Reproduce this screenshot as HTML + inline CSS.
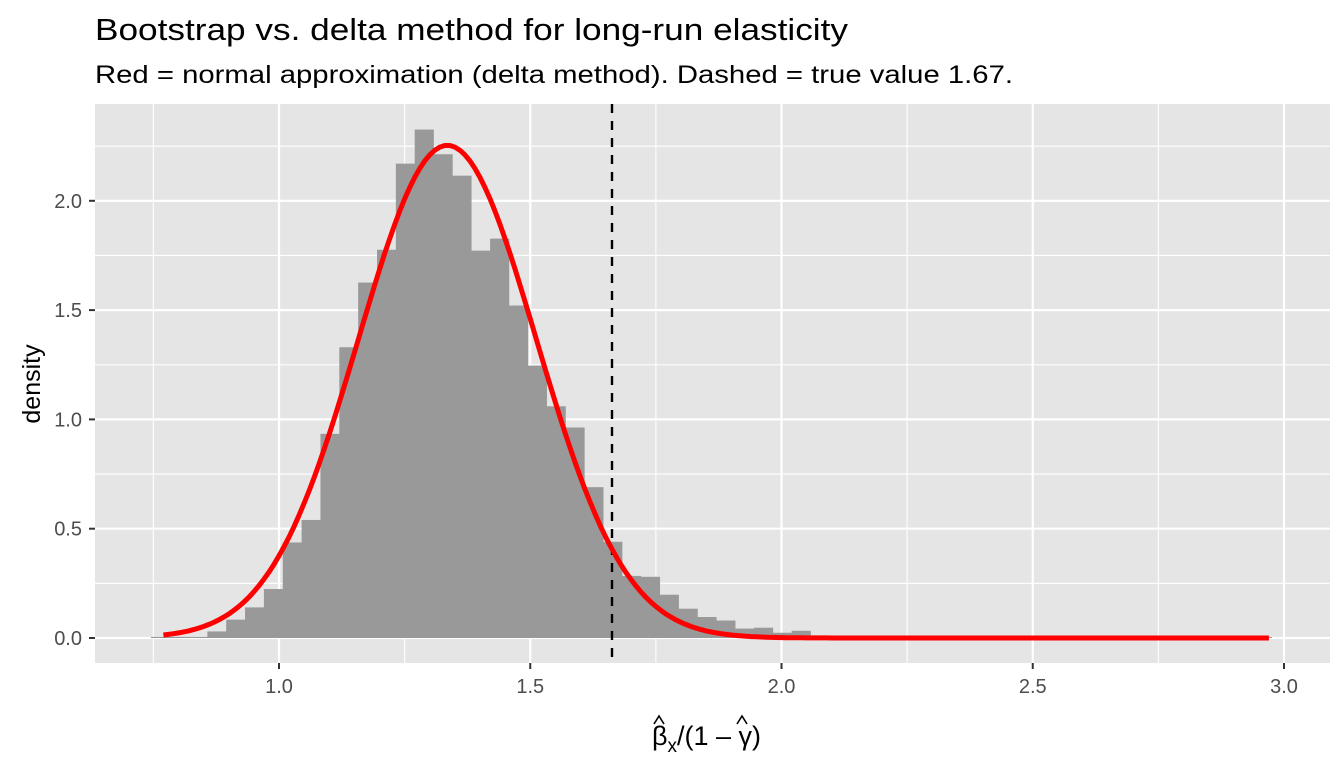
<!DOCTYPE html>
<html><head><meta charset="utf-8"><style>
html,body{margin:0;padding:0;background:#fff;}
svg{display:block;font-family:"Liberation Sans",Arial,sans-serif;}
</style></head><body>
<svg id="s" width="1344" height="768" viewBox="0 0 1344 768" xmlns="http://www.w3.org/2000/svg">
<rect x="0" y="0" width="1344" height="768" fill="#fff"/>
<text x="95" y="40" font-size="31" fill="#000" textLength="753" lengthAdjust="spacingAndGlyphs">Bootstrap vs. delta method for long-run elasticity</text>
<text x="95" y="83" font-size="25" fill="#000" textLength="918" lengthAdjust="spacingAndGlyphs">Red = normal approximation (delta method). Dashed = true value 1.67.</text>
<rect x="95" y="104" width="1235" height="559" fill="#e5e5e5"/>
<g id="grid"></g>
<g id="bars" fill="#999999"></g>
<line x1="612" y1="104" x2="612" y2="663" stroke="#000" stroke-width="2.4" stroke-dasharray="9,8"/>
<path id="curve" fill="none" stroke="#ff0000" stroke-width="5"/>
<g id="ticks" font-size="20" fill="#4d4d4d"></g>
<text transform="translate(40,384) rotate(-90)" text-anchor="middle" font-size="25" fill="#000">density</text>
<text x="652" y="745" font-size="27" fill="#000">β<tspan font-size="19" dy="7">x</tspan><tspan dy="-7">/(1 – γ)</tspan></text>
<path d="M654,724 L659,716 L664,724 M737,724 L742,716 L747,724" fill="none" stroke="#000" stroke-width="1.6"/>
</svg>
<script>
var NS="http://www.w3.org/2000/svg";
function X(v){return 279+(v-1)*502.5;}
function Y(v){return 638-v*218.6;}
function el(p,t,a,txt){var e=document.createElementNS(NS,t);for(var k in a)e.setAttribute(k,a[k]);if(txt)e.textContent=txt;document.getElementById(p).appendChild(e);}
for(var v=0.75;v<=3.0;v+=0.25){var major=Math.abs(v*2-Math.round(v*2))<1e-6;el("grid","line",{x1:X(v),x2:X(v),y1:104,y2:663,stroke:"#fff","stroke-width":major?2.2:1.1});}
for(var v=0.25;v<=2.25;v+=0.25){el("grid","line",{x1:95,x2:1330,y1:Y(v),y2:Y(v),stroke:"#fff","stroke-width":1.1});}
for(var i=0;i<=4;i++){var v=i*0.5;el("grid","line",{x1:95,x2:1330,y1:Y(v),y2:Y(v),stroke:"#fff","stroke-width":2.2});
el("ticks","line",{x1:89,x2:95,y1:Y(v),y2:Y(v),stroke:"#333","stroke-width":2});
el("ticks","text",{x:82,y:Y(v)+7,"text-anchor":"end"},v.toFixed(1));}
for(var i=0;i<=4;i++){var v=1+i*0.5;el("ticks","line",{x1:X(v),x2:X(v),y1:663,y2:669,stroke:"#333","stroke-width":2});
el("ticks","text",{x:X(v),y:693,"text-anchor":"middle"},v.toFixed(1));}
var h=[0.005,0.005,0.005,0.03,0.084,0.14,0.224,0.437,0.54,0.934,1.33,1.626,1.776,2.17,2.326,2.213,2.115,1.772,1.827,1.521,1.246,1.06,0.963,0.69,0.44,0.284,0.28,0.198,0.134,0.096,0.08,0.043,0.047,0.024,0.033];
var x0=150.8,w=18.85;
for(var i=0;i<h.length;i++){el("bars","rect",{x:x0+i*w,y:Y(h[i]),width:w+0.3,height:h[i]*218.6});}
var xe=x0+h.length*w;el("bars","rect",{x:xe,y:637,width:1272-xe,height:1});
var mu=1.335,sd=0.177,d="";
for(var v=0.77;v<=2.97;v+=0.01){var y=Math.exp(-0.5*Math.pow((v-mu)/sd,2))/(sd*Math.sqrt(2*Math.PI));d+=(d?"L":"M")+X(v).toFixed(1)+","+Y(y).toFixed(1);}
document.getElementById("curve").setAttribute("d",d);
</script>
</body></html>
